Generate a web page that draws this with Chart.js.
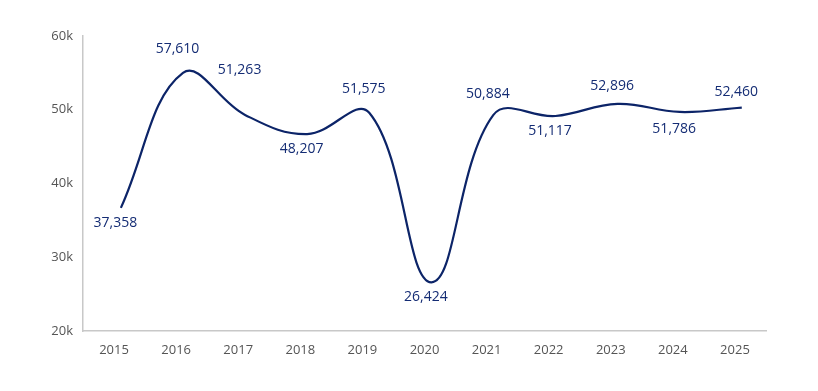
<!DOCTYPE html>
<html>
<head>
<meta charset="utf-8">
<script src="https://cdn.jsdelivr.net/npm/chart.js@4"></script>
<style>
  html, body { margin: 0; padding: 0; background: #fff; }
  #wrap { width: 818px; height: 391px; }
</style>
</head>
<body>
<div id="wrap"><canvas id="chart" width="818" height="391"></canvas></div>
<script>
// --- Data ---
const years = ['2015', '2016', '2017', '2018', '2019', '2020', '2021', '2022', '2023', '2024', '2025'];
// where the curve passes each year
const lineValues = [36700, 55000, 49300, 46700, 49600, 26600, 49300, 49150, 50800, 49700, 50300];
// value labels printed next to the curve
const valueLabels = ['37,358', '57,610', '51,263', '48,207', '51,575', '26,424', '50,884', '51,117', '52,896', '51,786', '52,460'];
const yTicks = [20000, 30000, 40000, 50000, 60000];

const navy = '#0c2468';
const labelColor = '#142c74';

// --- label placement (offset from the point, px) ---
const labelDx = -5.5;
const labelDy = [15, -24, -45, 15, -24, 15, -21, 15, -18, 17, -16];

const valueLabelPlugin = {
    id: 'valueLabels',
    afterDatasetsDraw(chart) {
        const ctx = chart.ctx;
        const meta = chart.getDatasetMeta(0);
        ctx.save();
        ctx.font = '14px "Open Sans", sans-serif';
        ctx.fillStyle = labelColor;
        ctx.textAlign = 'center';
        ctx.textBaseline = 'middle';
        meta.data.forEach((pt, i) => {
            ctx.fillText(valueLabels[i], pt.x + labelDx, pt.y + labelDy[i]);
        });
        ctx.restore();
    }
};

const ctx = document.getElementById('chart').getContext('2d');
const chart = new Chart(ctx, {
    type: 'line',
    data: {
        labels: years,
        datasets: [{
            // the curve sits a few px right of the year labels in the original
            data: lineValues.map((v, i) => ({ x: i, y: v })),
            xAxisID: 'x2',
            borderColor: navy,
            borderWidth: 2.2,
            pointRadius: 0,
            tension: 0.4,
            fill: false
        }]
    },
    options: {
        responsive: false,
        animation: false,
        layout: { padding: { top: 36, right: 52, left: 0, bottom: 0 } },
        plugins: {
            legend: { display: false },
            tooltip: { enabled: false }
        },
        scales: {
            x: {
                type: 'category',
                offset: true,
                grid: { display: false, drawTicks: false },
                border: { display: true, color: '#c8c8c8', width: 1.5 },
                ticks: {
                    color: '#555',
                    font: { family: '"Open Sans", sans-serif', size: 13 },
                    padding: 11,
                    maxRotation: 0
                },
                afterFit(scale) { scale.height = 60; }
            },
            x2: {
                type: 'linear',
                display: false,
                min: -0.61,
                max: 10.39
            },
            y: {
                min: 20000,
                max: 60000,
                grid: { display: false, drawTicks: false },
                border: { display: true, color: '#c8c8c8', width: 1.5 },
                afterBuildTicks(scale) {
                    scale.ticks = yTicks.map(v => ({ value: v }));
                },
                ticks: {
                    color: '#555',
                    font: { family: '"Open Sans", sans-serif', size: 13 },
                    padding: 10,
                    callback: v => (v / 1000) + 'k'
                },
                afterFit(scale) { scale.width = 83; }
            }
        }
    },
    plugins: [valueLabelPlugin]
});
</script>
</body>
</html>
